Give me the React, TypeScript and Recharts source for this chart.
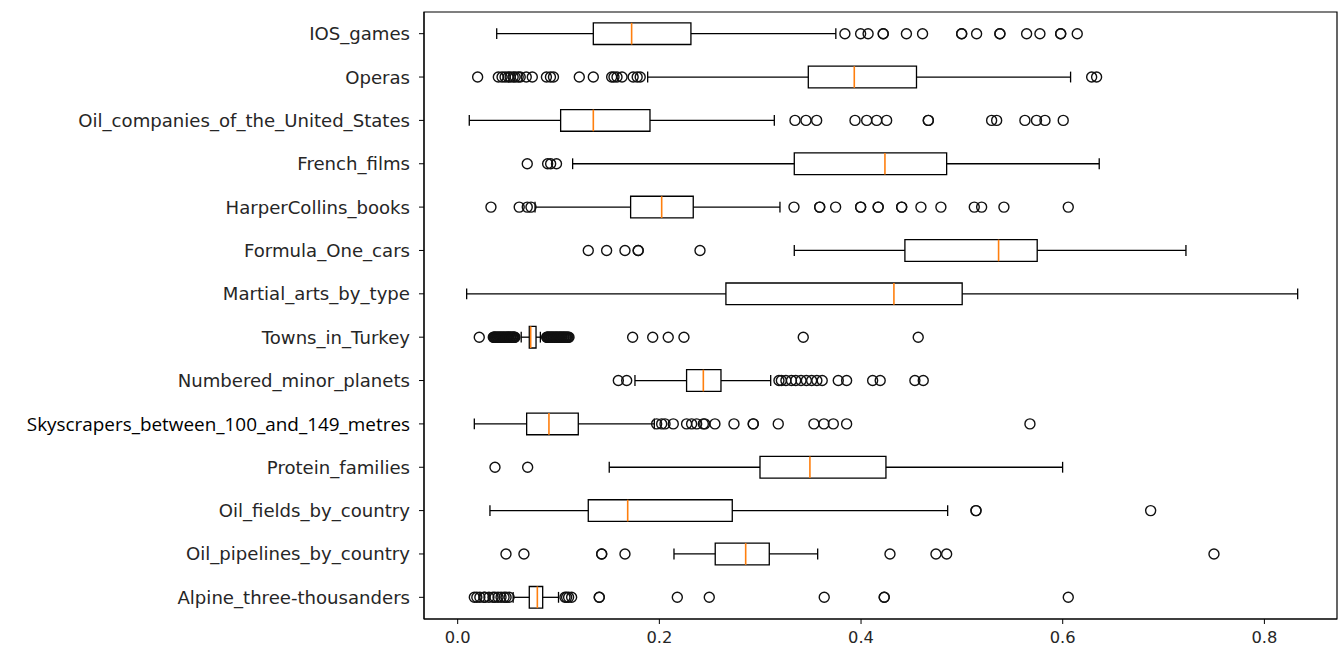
import React from 'react'
import { ScatterChart, Scatter, XAxis, YAxis, ReferenceArea, ReferenceLine } from 'recharts'

// bottom row first, so IOS_games ends up at the top
const categories = [
	'Alpine_three-thousanders',
	'Oil_pipelines_by_country',
	'Oil_fields_by_country',
	'Protein_families',
	'Skyscrapers_between_100_and_149_metres',
	'Numbered_minor_planets',
	'Towns_in_Turkey',
	'Martial_arts_by_type',
	'Formula_One_cars',
	'HarperCollins_books',
	'French_films',
	'Oil_companies_of_the_United_States',
	'Operas',
	'IOS_games'
]

const whiskerLow = [0.055, 0.2145, 0.032, 0.1503, 0.0165, 0.1758, 0.063, 0.0089, 0.3338, 0.0767, 0.114, 0.0115, 0.1884, 0.0387]
const q1 = [0.071, 0.2554, 0.1295, 0.2998, 0.0684, 0.227, 0.071, 0.266, 0.4435, 0.1715, 0.3338, 0.1021, 0.3477, 0.1345]
const medians = [0.079, 0.2856, 0.1686, 0.3493, 0.0905, 0.2436, 0.0724, 0.4326, 0.5364, 0.2023, 0.4237, 0.1345, 0.3933, 0.1725]
const q3 = [0.0843, 0.309, 0.2723, 0.4247, 0.1196, 0.2611, 0.0777, 0.5003, 0.5747, 0.2336, 0.4849, 0.1907, 0.455, 0.2313]
const whiskerHigh = [0.1, 0.357, 0.4859, 0.5999, 0.195, 0.3104, 0.082, 0.833, 0.7222, 0.3196, 0.6362, 0.314, 0.6078, 0.375]

const outliers = [
	// Alpine_three-thousanders
	[0.0165, 0.019, 0.022, 0.026, 0.027, 0.031, 0.035, 0.037, 0.04, 0.043, 0.046, 0.048, 0.051, 0.1064, 0.108, 0.11, 0.113, 0.1404, 0.1404, 0.2178, 0.2495, 0.3635, 0.423, 0.423, 0.6055],
	// Oil_pipelines_by_country
	[0.0479, 0.0657, 0.1428, 0.1428, 0.1659, 0.4287, 0.4743, 0.4849, 0.75],
	// Oil_fields_by_country
	[0.514, 0.514, 0.6872],
	// Protein_families
	[0.037, 0.0694],
	// Skyscrapers_between_100_and_149_metres
	[0.1973, 0.2023, 0.2056, 0.2138, 0.227, 0.232, 0.237, 0.2436, 0.245, 0.2551, 0.274, 0.2931, 0.2931, 0.3179, 0.3533, 0.3632, 0.3725, 0.3857, 0.5675],
	// Numbered_minor_planets
	[0.1593, 0.1676, 0.3186, 0.321, 0.3255, 0.331, 0.3352, 0.3405, 0.3458, 0.351, 0.3562, 0.3615, 0.3774, 0.3857, 0.4115, 0.419, 0.4534, 0.4617],
	// Towns_in_Turkey
	[
		0.0214, 0.0353, 0.0359, 0.0364, 0.0372, 0.0378, 0.0385, 0.0393, 0.0399, 0.0406, 0.0414, 0.0421, 0.0427, 0.0435, 0.0441, 0.0448,
		0.0456, 0.0462, 0.0467, 0.0478, 0.0483, 0.0489, 0.0497, 0.0503, 0.0508, 0.0519, 0.0523, 0.0527, 0.0538, 0.0544, 0.0549, 0.0557,
		0.0562, 0.0568, 0.0882, 0.0888, 0.0893, 0.0901, 0.0908, 0.0914, 0.0922, 0.0929, 0.0935, 0.0943, 0.0949, 0.0956, 0.0964, 0.0971,
		0.0977, 0.0985, 0.0991, 0.0996, 0.1007, 0.1012, 0.1018, 0.1026, 0.1031, 0.1037, 0.1048, 0.1052, 0.1056, 0.1067, 0.1073, 0.1079,
		0.1088, 0.1096, 0.1104, 0.1735, 0.1934, 0.2088, 0.2244, 0.3427, 0.4567
	],
	// Martial_arts_by_type
	[],
	// Formula_One_cars
	[0.1295, 0.1477, 0.1659, 0.179, 0.179, 0.2403],
	// HarperCollins_books
	[0.033, 0.061, 0.069, 0.0727, 0.3335, 0.359, 0.359, 0.3748, 0.3996, 0.3996, 0.417, 0.417, 0.4403, 0.4403, 0.4594, 0.4792, 0.5123, 0.5196, 0.5417, 0.6055],
	// French_films
	[0.069, 0.0892, 0.0922, 0.098],
	// Oil_companies_of_the_United_States
	[0.3345, 0.3454, 0.356, 0.394, 0.4056, 0.4155, 0.4254, 0.4667, 0.4667, 0.5295, 0.5345, 0.5625, 0.574, 0.5824, 0.6005],
	// Operas
	[
		0.0198, 0.0403, 0.044, 0.047, 0.05, 0.052, 0.055, 0.057, 0.06, 0.062, 0.068, 0.074, 0.088, 0.092, 0.095, 0.1206, 0.1345, 0.1527,
		0.155, 0.158, 0.163, 0.174, 0.178, 0.181, 0.6287, 0.6336
	],
	// IOS_games
	[0.384, 0.3996, 0.407, 0.422, 0.422, 0.445, 0.461, 0.4998, 0.4998, 0.5146, 0.5377, 0.5377, 0.5642, 0.5774, 0.598, 0.598, 0.6144]
]

const xTicks = [0, 0.2, 0.4, 0.6, 0.8]
const xMin = -0.0334
const xMax = 0.872

const rowTicks = categories.map((_, i) => i + 1)
const boxHalf = 0.25
const capHalf = 0.125

const rows = categories.map((name, i) => ({
	name,
	y: i + 1,
	lo: whiskerLow[i],
	q1: q1[i],
	med: medians[i],
	q3: q3[i],
	hi: whiskerHigh[i]
}))

const outlierPoints = outliers.flatMap((vals, i) => vals.map((x) => ({ x, y: i + 1 })))

// the skyscraper label was pasted in with another font in the original
const pastedLabel = 'Skyscrapers_between_100_and_149_metres'

function Ring(props: any) {
	const { cx, cy } = props
	if (cx == null || cy == null) return null
	return <circle cx={cx} cy={cy} r={5} fill="none" stroke="#111" strokeWidth={1.4} />
}

function CategoryTick(props: any) {
	const { x, y, payload } = props
	const label = categories[Math.round(payload.value) - 1]
	const pasted = label === pastedLabel
	return (
		<text
			x={x}
			y={y}
			dy="0.36em"
			textAnchor="end"
			fill={pasted ? '#000' : '#262626'}
			fontSize={pasted ? 18.9 : 18.1}
			fontFamily={pasted ? 'Open Sans' : 'DejaVu Sans'}
		>
			{label}
		</text>
	)
}

export default function App() {
	return (
		<div style={{ width: 1341, height: 648, background: '#fff' }}>
			<style>{'body{margin:0}'}</style>
			<ScatterChart width={1341} height={648} margin={{ top: 12, right: 4, bottom: 0, left: 0 }}>
				<XAxis
					type="number"
					dataKey="x"
					domain={[xMin, xMax]}
					ticks={xTicks}
					interval={0}
					allowDataOverflow
					tickFormatter={(v: number) => v.toFixed(1)}
					height={29}
					tickSize={5}
					tickMargin={7}
					stroke="#000"
					tick={{ fill: '#262626', fontSize: 16.3, fontFamily: 'DejaVu Sans' }}
				/>
				<YAxis
					type="number"
					dataKey="y"
					domain={[0.5, 14.5]}
					ticks={rowTicks}
					interval={0}
					allowDataOverflow
					width={424}
					tickSize={5}
					tickMargin={9}
					stroke="#000"
					tick={<CategoryTick />}
				/>
				<ReferenceArea x1={xMin} x2={xMax} y1={0.5} y2={14.5} fill="none" stroke="#000" strokeWidth={1.2} />
				{rows.map((r) => (
					<React.Fragment key={r.name}>
						<ReferenceLine segment={[{ x: r.lo, y: r.y }, { x: r.q1, y: r.y }]} stroke="#000" strokeWidth={1.3} />
						<ReferenceLine segment={[{ x: r.q3, y: r.y }, { x: r.hi, y: r.y }]} stroke="#000" strokeWidth={1.3} />
						<ReferenceLine segment={[{ x: r.lo, y: r.y - capHalf }, { x: r.lo, y: r.y + capHalf }]} stroke="#000" strokeWidth={1.3} />
						<ReferenceLine segment={[{ x: r.hi, y: r.y - capHalf }, { x: r.hi, y: r.y + capHalf }]} stroke="#000" strokeWidth={1.3} />
						<ReferenceArea x1={r.q1} x2={r.q3} y1={r.y - boxHalf} y2={r.y + boxHalf} fill="none" stroke="#000" strokeWidth={1.3} />
						<ReferenceLine segment={[{ x: r.med, y: r.y - boxHalf }, { x: r.med, y: r.y + boxHalf }]} stroke="#ff7f0e" strokeWidth={1.6} />
					</React.Fragment>
				))}
				<Scatter data={outlierPoints} shape={Ring} isAnimationActive={false} />
			</ScatterChart>
		</div>
	)
}
